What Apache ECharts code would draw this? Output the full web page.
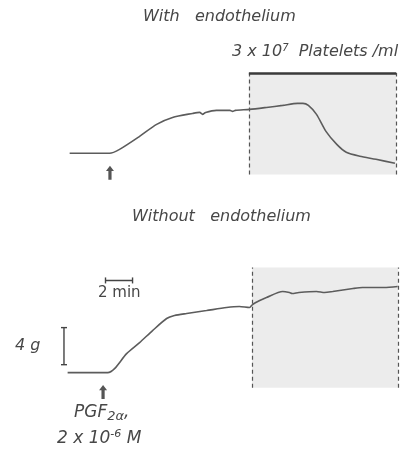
<!DOCTYPE html>
<html>
<head>
<meta charset="utf-8">
<script src="https://cdn.jsdelivr.net/npm/echarts@6/dist/echarts.min.js"></script>
<style>
  html, body { margin: 0; padding: 0; background: #fff; }
  #chart { width: 417px; height: 457px; }
</style>
</head>
<body>
<div id="chart"></div>
<script>
// time in minutes from start of trace, tension in g above baseline
const withTime = [0.15, 3.1, 3.84, 5.32, 6.58, 7.76, 9.24, 9.76, 9.98, 10.2, 11.0, 12.0, 12.2, 12.4, 13.45, 14.7, 15.9, 17.0, 17.4, 17.8, 18.4, 19.1, 19.9, 20.6, 21.6, 22.8, 24.2];
const withTension = [0, 0, 0.43, 1.84, 3.14, 3.89, 4.32, 4.43, 4.22, 4.43, 4.65, 4.65, 4.54, 4.65, 4.76, 4.97, 5.19, 5.41, 5.41, 5.19, 4.22, 2.38, 0.97, 0.11, -0.32, -0.65, -1.08];

const withoutTime = [0, 2.96, 3.47, 4.36, 5.32, 6.28, 7.32, 7.9, 8.8, 10.27, 11.75, 12.7, 13.45, 13.67, 14.2, 14.7, 15.9, 16.4, 16.6, 17.1, 18.4, 19.0, 19.6, 21.1, 21.8, 22.5, 23.4, 24.4];
const withoutTension = [0, 0, 0.43, 2.05, 3.24, 4.54, 5.84, 6.16, 6.38, 6.7, 7.03, 7.14, 7.03, 7.35, 7.78, 8.11, 8.76, 8.65, 8.54, 8.65, 8.76, 8.65, 8.76, 9.08, 9.19, 9.19, 9.19, 9.3];

// platelet exposure windows (min) and box heights (g)
const plateletsWith = [13.4, 24.3];
const plateletsWithout = [13.63, 24.44];
const boxWith = [-2.3, 8.7];
const boxWithout = [-1.62, 11.35];

// PGF2a addition (min)
const pgfWith = 3.13;
const pgfWithout = 2.62;

// calibration bars
const timeBar = [2.8, 4.8];      // 2 min
const timeBarLevel = 9.95;
const forceBar = [0.86, 4.86];   // 4 g
const forceBarTime = -0.27;

const chart = echarts.init(document.getElementById('chart'));

const traceColor = '#5c5c5c';
const textColor = '#474747';
const fontFamily = 'DejaVu Sans';
const arrowPath = 'path://M5,0 L10,6 L7,6 L7,16 L3,16 L3,6 L0,6 Z';

function pairs(xs, ys) {
    return xs.map((x, i) => [x, ys[i]]);
}

function boxMarks(win, box, topLine) {
    const lines = [
        [{ coord: [win[0], box[0]] }, { coord: [win[0], box[1]] }],
        [{ coord: [win[1], box[0]] }, { coord: [win[1], box[1]] }]
    ];
    const mark = {
        markArea: {
            silent: true,
            itemStyle: { color: '#ececec' },
            data: [[{ coord: [win[0], box[0]] }, { coord: [win[1], box[1]] }]]
        },
        markLine: {
            silent: true,
            symbol: 'none',
            label: { show: false },
            lineStyle: { color: '#555', type: [4, 3], width: 1.2 },
            data: lines
        }
    };
    if (topLine) {
        mark.markLine.data.push([
            { coord: [win[0], box[1]], lineStyle: { type: 'solid', width: 2.5, color: '#3a3a3a' } },
            { coord: [win[1], box[1]] }
        ]);
    }
    return mark;
}

const hiddenX = {
    type: 'value', min: -5, max: 24.5, show: false
};

const option = {
    backgroundColor: '#fff',
    animation: false,
    grid: [
        { left: 0, right: 18, top: 73, height: 108 },
        { left: 0, right: 18, top: 267, height: 152 }
    ],
    xAxis: [
        Object.assign({ gridIndex: 0 }, hiddenX),
        Object.assign({ gridIndex: 1 }, hiddenX)
    ],
    yAxis: [
        { gridIndex: 0, type: 'value', min: -3, max: 8.7, show: false },
        { gridIndex: 1, type: 'value', min: -5, max: 11.4, show: false }
    ],
    series: [
        Object.assign({
            name: 'With endothelium',
            type: 'line',
            xAxisIndex: 0,
            yAxisIndex: 0,
            showSymbol: false,
            smooth: 0.25,
            lineStyle: { color: traceColor, width: 1.6 },
            data: pairs(withTime, withTension),
            z: 5
        }, boxMarks(plateletsWith, boxWith, true)),
        Object.assign({
            name: 'Without endothelium',
            type: 'line',
            xAxisIndex: 1,
            yAxisIndex: 1,
            showSymbol: false,
            smooth: 0.25,
            lineStyle: { color: traceColor, width: 1.6 },
            data: pairs(withoutTime, withoutTension),
            z: 5
        }, boxMarks(plateletsWithout, boxWithout, false)),
        {
            name: 'PGF arrows top',
            type: 'scatter',
            xAxisIndex: 0,
            yAxisIndex: 0,
            symbol: arrowPath,
            symbolSize: [8, 14],
            itemStyle: { color: '#2a2a2a' },
            data: [[pgfWith, -2.1]]
        },
        {
            name: 'PGF arrows bottom',
            type: 'scatter',
            xAxisIndex: 1,
            yAxisIndex: 1,
            symbol: arrowPath,
            symbolSize: [8, 14],
            itemStyle: { color: '#2a2a2a' },
            data: [[pgfWithout, -2.1]]
        },
        {
            name: '2 min',
            type: 'line',
            xAxisIndex: 1,
            yAxisIndex: 1,
            symbol: 'rect',
            symbolSize: [1.4, 6],
            showSymbol: true,
            itemStyle: { color: '#444' },
            lineStyle: { color: '#444', width: 1.4 },
            data: timeBar.map(t => [t, timeBarLevel])
        },
        {
            name: '4 g',
            type: 'line',
            xAxisIndex: 1,
            yAxisIndex: 1,
            symbol: 'rect',
            symbolSize: [6, 1.4],
            showSymbol: true,
            itemStyle: { color: '#444' },
            lineStyle: { color: '#444', width: 1.4 },
            data: forceBar.map(g => [forceBarTime, g])
        }
    ],
    graphic: [
        {
            type: 'text', left: 143, top: 9,
            style: { text: 'With   endothelium', font: 'italic 16px ' + fontFamily, fill: textColor }
        },
        {
            type: 'text', left: 232, top: 43,
            style: {
                text: '{n|3 x 10}{sup|7}{n|  Platelets /ml}',
                fill: textColor,
                rich: {
                    n: { font: 'italic 16px ' + fontFamily, fill: textColor },
                    sup: { font: 'italic 10px ' + fontFamily, fill: textColor, padding: [0, 0, 8, 0] }
                }
            }
        },
        {
            type: 'text', left: 132, top: 209,
            style: { text: 'Without   endothelium', font: 'italic 16px ' + fontFamily, fill: textColor }
        },
        {
            type: 'text', left: 98, top: 286,
            style: { text: '2 min', font: '15px ' + fontFamily, fill: textColor }
        },
        {
            type: 'text', left: 15, top: 338,
            style: { text: '4 g', font: 'italic 16px ' + fontFamily, fill: textColor }
        },
        {
            type: 'text', left: 74, top: 404,
            style: {
                text: '{n|PGF}{sub|2α}{n|,}',
                rich: {
                    n: { font: 'italic 17px ' + fontFamily, fill: textColor },
                    sub: { font: 'italic 13px ' + fontFamily, fill: textColor, padding: [9, 0, 0, 0] }
                }
            }
        },
        {
            type: 'text', left: 57, top: 429,
            style: {
                text: '{n|2 x 10}{sup|-6}{n| M}',
                rich: {
                    n: { font: 'italic 17px ' + fontFamily, fill: textColor },
                    sup: { font: 'italic 11px ' + fontFamily, fill: textColor, padding: [0, 0, 8, 0] }
                }
            }
        }
    ]
};

chart.setOption(option);
</script>
</body>
</html>
